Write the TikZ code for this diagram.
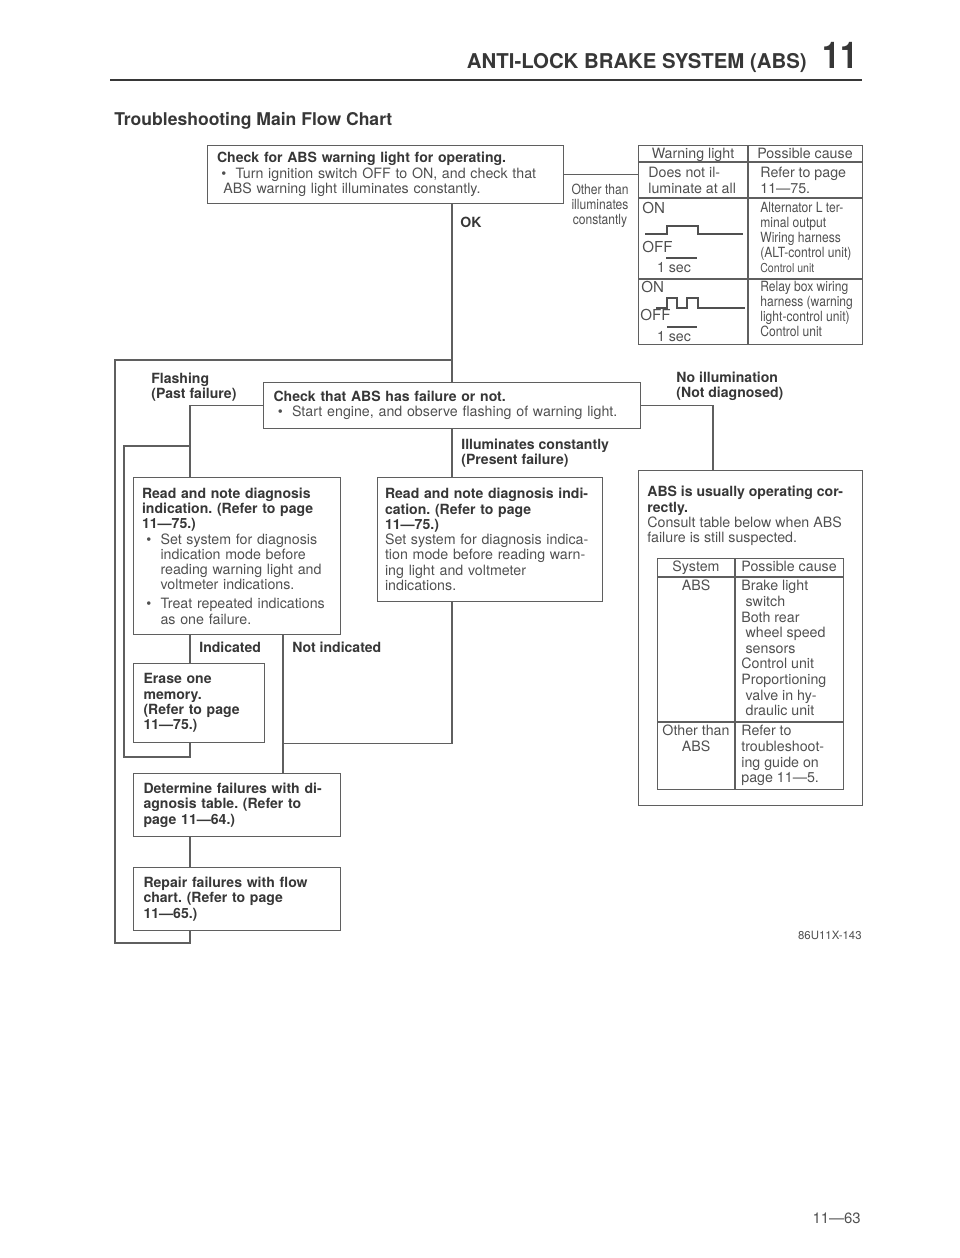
\documentclass[tikz,border=0pt]{standalone}
\usepackage{fontspec}
\setmainfont{TeX Gyre Heros}
\newfontfamily\narrowfont[FakeStretch=0.86]{TeX Gyre Heros}
\usetikzlibrary{positioning,calc}
\frenchspacing
\definecolor{ink}{RGB}{80,80,80}
\definecolor{inkb}{RGB}{55,55,55}
\definecolor{rule}{RGB}{95,95,95}
\newcommand{\bodyfont}{\fontsize{8.1}{8.7}\selectfont}
\newcommand{\hd}[1]{{\fontsize{8}{8.7}\selectfont\bfseries\color{inkb}#1}}
\newcommand{\bul}{\hspace*{0.3em}\makebox[1em][l]{\textbullet}}
\newcommand{\ind}{\hspace*{1.3em}}
\tikzset{
  flowbox/.style={
    draw=rule, line width=0.6pt, anchor=north west,
    align=left, inner xsep=0pt, inner ysep=0pt,
    font=\bodyfont, text=ink
  },
  conn/.style={draw=rule, line width=0.6pt},
  lab/.style={font=\fontsize{8}{8.6}\selectfont\bfseries, text=inkb,
    align=left, inner sep=0pt},
  cell/.style={font=\bodyfont, text=ink, inner sep=0pt, align=left},
  ncell/.style={font=\narrowfont\fontsize{8}{8.5}\selectfont, text=ink,
    inner sep=0pt, align=left},
  wave/.style={draw=ink, line width=0.6pt}
}

\begin{document}
\begin{tikzpicture}[x=0.02cm,y=-0.02cm]
\useasboundingbox (0,0) rectangle (960,1258);

\node[font=\fontsize{11.6}{14}\selectfont\bfseries, text=inkb, inner sep=0pt, anchor=base east] (hdr) at (807,68) {ANTI-LOCK BRAKE SYSTEM (ABS)};
\node[font=\narrowfont\fontsize{21}{24}\selectfont\bfseries, text=inkb, inner sep=0pt, anchor=base west] (chap) at (822,68) {11};
\draw[line width=1.5pt, draw=inkb] (110,80) -- (862,80);
\node[font=\fontsize{10}{12}\selectfont\bfseries, text=inkb, inner sep=0pt, anchor=base west] (ttl) at (114,125) {Troubleshooting Main Flow Chart};

\node[flowbox, minimum width=7.12cm, minimum height=1.16cm, text width=6.74cm] (chkop) at (207,145)
  {\hd{Check for ABS warning light for operating.}\\
   \bul Turn ignition switch OFF to ON, and check that\\
   \hspace*{0.45em}ABS warning light illuminates constantly.};

\node[flowbox, minimum width=4.48cm, minimum height=3.98cm] (wtab) at (638,145) {};
\draw[conn] ([xshift=2.2cm]wtab.north west) -- ([xshift=2.2cm]wtab.south west);
\draw[conn] ([yshift=-0.34cm]wtab.north west) -- ([yshift=-0.34cm]wtab.north east);
\draw[conn] ([yshift=-1.06cm]wtab.north west) -- ([yshift=-1.06cm]wtab.north east);
\draw[conn] ([yshift=-2.68cm]wtab.north west) -- ([yshift=-2.68cm]wtab.north east);
\node[cell, anchor=base] (wl) at (693,158) {Warning light};
\node[cell, anchor=base] (pc1) at (805,158) {Possible cause};
\node[cell, anchor=north west] (dni) at (648,167) {Does not il-\\luminate at all};
\node[cell, anchor=north west] (rtp) at (760,167) {Refer to page\\11—75.};
\node[cell, font=\fontsize{8.6}{9}\selectfont, anchor=base west] (on1) at (642,213) {ON};
\node[cell, font=\fontsize{8.6}{9}\selectfont, anchor=base west] (off1) at (642,252) {OFF};
\draw[wave] (645,234) -- (667,234) -- (667,226) -- (698,226) -- (698,234) -- (743,234);
\draw[wave] (666,258) -- (697,258);
\node[cell, anchor=base] (sec1) at (674,272) {1 sec};
\node[cell, font=\fontsize{8.6}{9}\selectfont, anchor=base west] (on2) at (641,292) {ON};
\node[cell, font=\fontsize{8.6}{9}\selectfont, anchor=base west] (off2) at (640,320) {OFF};
\draw[wave] (656,308) -- (667,308) -- (667,298) -- (677,298) -- (677,308) -- (687,308)
  -- (687,298) -- (698,298) -- (698,308) -- (745,308);
\draw[wave] (667,327) -- (697,327);
\node[cell, anchor=base] (sec2) at (674,341) {1 sec};
\node[ncell, anchor=north west] (alt) at (760,202) {Alternator L ter-\\minal output\\Wiring harness\\(ALT-control unit)\\{\fontsize{7}{8}\selectfont Control unit}};
\node[ncell, anchor=north west] (rly) at (760,281) {Relay box wiring\\harness (warning\\light-control unit)\\Control unit};

\node[ncell, align=center, anchor=north] (othlab) at (600,184) {Other than\\illuminates\\constantly};
\node[lab, anchor=base west] (oklab) at (460,227) {OK};

\node[flowbox, minimum width=7.54cm, minimum height=0.92cm, text width=7.14cm] (fail) at (263,382)
  {\hd{Check that ABS has failure or not.}\\
   \bul Start engine, and observe flashing of warning light.};
\node[lab, anchor=north west] (flab) at (151,373) {Flashing\\(Past failure)};
\node[lab, anchor=north west] (nolab) at (676,372) {No illumination\\(Not diagnosed)};
\node[lab, anchor=north west] (illab) at (461,439) {Illuminates constantly\\(Present failure)};

\node[flowbox, minimum width=4.14cm, minimum height=3.14cm, text width=3.8cm] (readL) at (133,477)
  {\hd{Read and note diagnosis}\\
   \hd{indication. (Refer to page}\\
   \hd{11—75.)}\\
   \bul Set system for diagnosis\\
   \ind indication mode before\\
   \ind reading warning light and\\
   \ind voltmeter indications.\\[2pt]
   \bul Treat repeated indications\\
   \ind as one failure.};

\node[flowbox, minimum width=4.5cm, minimum height=2.48cm, text width=4.2cm] (readR) at (377,477)
  {\hd{Read and note diagnosis indi-}\\
   \hd{cation. (Refer to page}\\
   \hd{11—75.)}\\
   Set system for diagnosis indica-\\
   tion mode before reading warn-\\
   ing light and voltmeter\\
   indications.};

\node[lab, anchor=base west] (indlab) at (199,652) {Indicated};
\node[lab, anchor=base west] (nindlab) at (292,652) {Not indicated};

\node[flowbox, minimum width=2.62cm, minimum height=1.58cm, text width=2.22cm] (erase) at (133,663)
  {\hd{Erase one}\\ \hd{memory.}\\ \hd{(Refer to page}\\ \hd{11—75.)}};

\node[flowbox, minimum width=4.14cm, minimum height=1.26cm, text width=3.74cm] (det) at (133,773)
  {\hd{Determine failures with di-}\\ \hd{agnosis table. (Refer to}\\ \hd{page 11—64.)}};

\node[flowbox, minimum width=4.14cm, minimum height=1.26cm, text width=3.74cm] (repair) at (133,867)
  {\hd{Repair failures with flow}\\ \hd{chart. (Refer to page}\\ \hd{11—65.)}};

\node[flowbox, minimum width=4.48cm, minimum height=6.7cm] (abs) at (638,470) {};
\node[cell, anchor=north west] (abstxt) at (647,486)
  {\hd{ABS is usually operating cor-}\\ \hd{rectly.}\\ Consult table below when ABS\\ failure is still suspected.};
\node[flowbox, minimum width=3.72cm, minimum height=4.62cm] (stab) at (657,558) {};
\draw[conn] ([xshift=1.56cm]stab.north west) -- ([xshift=1.56cm]stab.south west);
\draw[conn] ([yshift=-0.38cm]stab.north west) -- ([yshift=-0.38cm]stab.north east);
\draw[conn] ([yshift=-3.28cm]stab.north west) -- ([yshift=-3.28cm]stab.north east);
\node[cell, anchor=base] (sysh) at (696,571) {System};
\node[cell, anchor=base west] (pc2) at (741,571) {Possible cause};
\node[cell, anchor=north] (sysabs) at (696,580) {ABS};
\node[cell, font=\fontsize{8.1}{8.9}\selectfont, anchor=north west] (cabs) at (741,580)
  {Brake light\\ \hspace*{0.3em}switch\\ Both rear\\ \hspace*{0.3em}wheel speed\\ \hspace*{0.3em}sensors\\
   Control unit\\ Proportioning\\ \hspace*{0.3em}valve in hy-\\ \hspace*{0.3em}draulic unit};
\node[cell, align=center, anchor=north] (sysoth) at (696,725) {Other than\\ABS};
\node[cell, font=\fontsize{8.1}{8.9}\selectfont, anchor=north west] (coth) at (741,725)
  {Refer to\\ troubleshoot-\\ ing guide on\\ page 11—5.};

\coordinate (colA) at (190,0);
\coordinate (colB) at (283,0);
\coordinate (colC) at (713,0);
\coordinate (lpT) at (115,360);
\coordinate (lpB) at (115,943);
\coordinate (lpF) at (124,446);
\coordinate (lpE) at (124,757);

\draw[conn] (chkop.east) -- (chkop.east -| wtab.west);
\draw[conn] (chkop.south -| fail.north) -- (fail.north);
\draw[conn] (colA |- repair.south) |- (lpB) |- (lpT -| fail.north);
\draw[conn] (fail.west) -| (colA |- readL.north);
\draw[conn] (fail.east) -| (colC |- abs.north);
\draw[conn] (fail.south) -- (fail.south |- readR.north);
\draw[conn] (colA |- readL.south) -- (colA |- erase.north);
\draw[conn] (colA |- erase.south) |- (lpE) |- (lpF -| colA);
\draw[conn] (colB |- readL.south) -- (colB |- det.north);
\draw[conn] (fail.south |- readR.south) |- (colB |- erase.south);
\draw[conn] (colA |- det.south) -- (colA |- repair.north);

\node[cell, font=\fontsize{6.5}{8}\selectfont, anchor=base east] (figid) at (862,939) {86U11X-143};
\node[cell, font=\fontsize{8.5}{10}\selectfont, anchor=base east] (pgno) at (861,1223) {11—63};
\end{tikzpicture}
\end{document}
